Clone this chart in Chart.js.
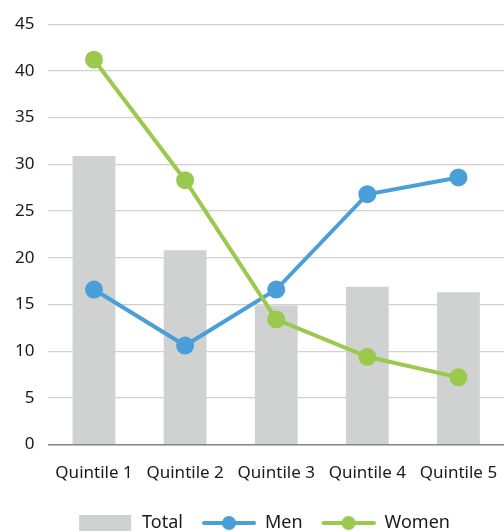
<!DOCTYPE html>
<html>
<head>
<meta charset="utf-8">
<script src="https://cdn.jsdelivr.net/npm/chart.js@4.4.1/dist/chart.umd.min.js"></script>
<style>
  html, body { margin: 0; padding: 0; background: #fff; }
  #wrap { width: 504px; height: 532px; }
</style>
</head>
<body>
<div id="wrap"><canvas id="quintiles"></canvas></div>
<script>
// chart data
var categories = ['Quintile 1', 'Quintile 2', 'Quintile 3', 'Quintile 4', 'Quintile 5'];
var totalValues = [30.9, 20.8, 14.9, 16.9, 16.3];
var menValues = [16.6, 10.6, 16.6, 26.8, 28.6];
var womenValues = [41.2, 28.3, 13.4, 9.4, 7.2];

var GREY = '#d0d2d1';
var BLUE = '#4a9fd8';
var GREEN = '#9bc94e';

// little pictures for the legend (bar swatch / line with marker)
// 6px empty on the left so items sit a bit further apart
function legendIcon(kind, color){
    var c = document.createElement('canvas');
    c.width = 60; c.height = 16;
    var g = c.getContext('2d');
    if(kind == 'bar'){
        g.fillStyle = color;
        g.fillRect(6, 0, 52, 16);
    }else{
        g.strokeStyle = color;
        g.lineWidth = 4;
        g.lineCap = 'round';
        g.beginPath();
        g.moveTo(8, 8); g.lineTo(58, 8);
        g.stroke();
        g.fillStyle = color;
        g.beginPath();
        g.arc(33, 8, 7, 0, Math.PI*2);
        g.fill();
    }
    return c;
}

var icons = {
    'Total': legendIcon('bar', GREY),
    'Men': legendIcon('line', BLUE),
    'Women': legendIcon('line', GREEN)
};

// nudge the legend to the right, like in the original
const legendShift = {
    id: 'legendShift',
    afterLayout: function(chart){
        if(chart.legend){ chart.legend.left += 18; }
    }
};

Chart.defaults.font.family = '"Noto Sans", sans-serif';
Chart.defaults.color = '#1a1a1a';

const ctx = document.getElementById('quintiles').getContext('2d');
const quintileChart = new Chart(ctx, {
    data: {
        labels: categories,
        datasets: [
            {
                type: 'line',
                label: 'Men',
                data: menValues,
                borderColor: BLUE,
                backgroundColor: BLUE,
                borderWidth: 4,
                pointRadius: 7,
                pointHoverRadius: 7,
                order: 1
            },
            {
                type: 'line',
                label: 'Women',
                data: womenValues,
                borderColor: GREEN,
                backgroundColor: GREEN,
                borderWidth: 4,
                pointRadius: 7,
                pointHoverRadius: 7,
                order: 0
            },
            {
                type: 'bar',
                label: 'Total',
                data: totalValues,
                backgroundColor: GREY,
                barPercentage: 0.47,
                categoryPercentage: 1,
                order: 2
            }
        ]
    },
    plugins: [legendShift],
    options: {
        responsive: true,
        maintainAspectRatio: false,
        animation: false,
        layout: {
            autoPadding: false,
            padding: {left: 1, right: 0, top: 18, bottom: -10}
        },
        scales: {
            x: {
                grid: { display: false, drawTicks: false },
                border: { color: '#888', width: 1.5 },
                ticks: { font: {size: 17}, padding: 18, maxRotation: 0, autoSkip: false },
                // labels fit inside their category, no extra side room needed
                afterFit: function(scale){ scale.paddingLeft = 0; scale.paddingRight = 0; }
            },
            y: {
                min: 0,
                max: 45,
                ticks: { stepSize: 5, font: {size: 17}, padding: 14 },
                grid: { color: '#d0d0d0', lineWidth: 1.2, drawTicks: false },
                border: { display: false }
            }
        },
        plugins: {
            tooltip: { enabled: false },
            legend: {
                position: 'bottom',
                labels: {
                    usePointStyle: true,
                    pointStyleWidth: 60,
                    padding: 13,
                    font: {size: 18},
                    generateLabels: function(chart){
                        var order = ['Total', 'Men', 'Women'];
                        return order.map(function(name){
                            var i = chart.data.datasets.findIndex(function(d){ return d.label == name; });
                            return {
                                text: name,
                                pointStyle: icons[name],
                                datasetIndex: i,
                                hidden: false,
                                lineWidth: 0,
                                fontColor: '#1a1a1a'
                            };
                        });
                    }
                }
            }
        }
    }
});
</script>
</body>
</html>
